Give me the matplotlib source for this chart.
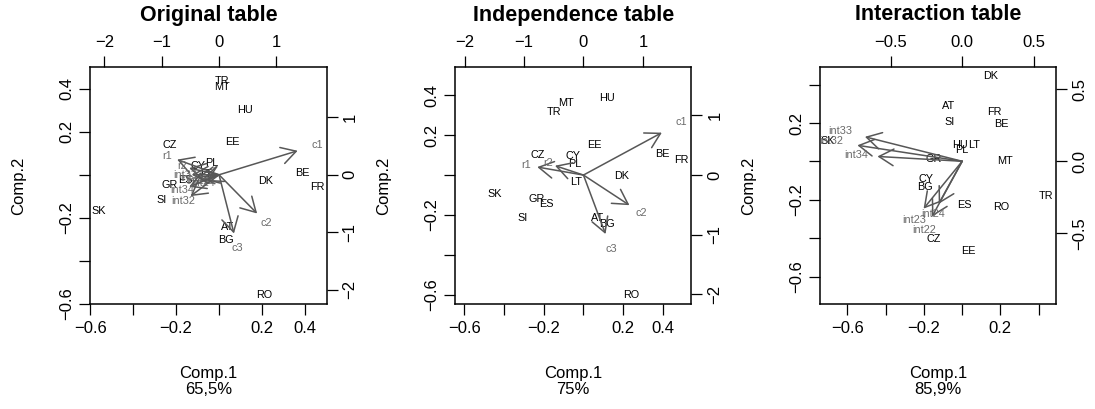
import matplotlib
matplotlib.use("Agg")
import matplotlib.pyplot as plt

plt.rcParams['font.family'] = ['Liberation Sans', 'DejaVu Sans']

# ---------------- data ----------------
countries = ["AT", "BE", "BG", "CY", "CZ", "DK", "EE", "ES", "FR",
             "GR", "HU", "LT", "MT", "PL", "RO", "SI", "SK", "TR"]

# Original table: row scores (Comp.1, Comp.2)
orig_x = [0.040, 0.390, 0.031, -0.100, -0.228, 0.218, 0.062, -0.158, 0.458,
          -0.232, 0.121, -0.060, 0.012, -0.036, 0.211, -0.266, -0.559, 0.012]
orig_y = [-0.241, 0.009, -0.303, 0.040, 0.140, -0.031, 0.152, -0.025, -0.058,
          -0.048, 0.303, 0.005, 0.409, 0.054, -0.560, -0.118, -0.168, 0.435]
orig_vars = ["r1", "r2", "c1", "c2", "c3", "int22", "int23", "int24",
             "int32", "int33", "int34"]
orig_vx = [-0.913, -0.651, 1.715, 0.831, 0.326, -0.36, -0.46, -0.28,
           -0.622, -0.59, -0.651]
orig_vy = [0.330, 0.145, 0.522, -0.841, -1.275, -0.10, -0.05, -0.14,
           -0.464, 0.000, -0.261]

# Independence table
ind_x = [0.072, 0.395, 0.119, -0.054, -0.232, 0.194, 0.055, -0.187, 0.493,
         -0.237, 0.119, -0.037, -0.090, -0.042, 0.239, -0.304, -0.446, -0.149]
ind_y = [-0.214, 0.104, -0.244, 0.095, 0.100, -0.005, 0.150, -0.144, 0.078,
         -0.122, 0.386, -0.035, 0.362, 0.057, -0.601, -0.214, -0.093, 0.316]
ind_vars = ["r1", "r2", "c1", "c2", "c3"]
ind_vx = [-0.972, -0.598, 1.648, 0.966, 0.464]
ind_vy = [0.168, 0.196, 0.888, -0.631, -1.235]

# Interaction table
int_x = [-0.069, 0.203, -0.196, -0.191, -0.149, 0.148, 0.033, 0.012, 0.168,
         -0.149, -0.010, 0.061, 0.226, -0.002, 0.203, -0.066, -0.705, 0.4375]
int_y = [0.287, 0.195, -0.134, -0.090, -0.405, 0.443, -0.466, -0.226, 0.257,
         0.014, 0.083, 0.087, 0.000, 0.061, -0.238, 0.203, 0.104, -0.183]
int_vars = ["int22", "int23", "int24", "int32", "int33", "int34"]
int_vx = [-0.263, -0.337, -0.205, -0.915, -0.849, -0.740]
int_vy = [-0.481, -0.412, -0.370, 0.139, 0.213, 0.042]

titles = ["Original table", "Independence table", "Interaction table"]
variance = ["65,5%", "75%", "85,9%"]

# ---------------- styling / layout ----------------
W, H = 1095, 409
fig = plt.figure(figsize=(W / 100, H / 100), dpi=100)

FS = 12
FS_TITLE = 15.5
FS_PT = 7.8
ARROW_COL = "#575757"
VLAB_COL = "#6a6a6a"

def mlab(v, fmt):
    s = fmt.format(v)
    return s.replace("-", "\u2212")

panels = [
    dict(rx=orig_x, ry=orig_y, vn=orig_vars, vx=orig_vx, vy=orig_vy,
         lim=(-0.600, 0.502), vlim=(-2.245, 1.878),
         pticks=[-0.6, -0.4, -0.2, 0.0, 0.2, 0.4],
         pshow=[-0.6, -0.2, 0.2, 0.4],
         vticks=[-2, -1, 0, 1], vfmt="{:.0f}", left=90.3),
    dict(rx=ind_x, ry=ind_y, vn=ind_vars, vx=ind_vx, vy=ind_vy,
         lim=(-0.646, 0.543), vlim=(-2.16, 1.815),
         pticks=[-0.6, -0.4, -0.2, 0.0, 0.2, 0.4],
         pshow=[-0.6, -0.2, 0.2, 0.4],
         vticks=[-2, -1, 0, 1], vfmt="{:.0f}", left=455.0),
    dict(rx=int_x, ry=int_y, vn=int_vars, vx=int_vx, vy=int_vy,
         lim=(-0.743, 0.493), vlim=(-0.993, 0.658),
         pticks=[-0.6, -0.4, -0.2, 0.0, 0.2, 0.4],
         pshow=[-0.6, -0.2, 0.2],
         vticks=[-0.5, 0.0, 0.5], vfmt="{:.1f}", left=820.0),
]

box_w, box_h = 236.4, 237.3
box_top = 66.7

for i, p in enumerate(panels):
    rect = [p["left"] / W, (H - box_top - box_h) / H, box_w / W, box_h / H]
    ax = fig.add_axes(rect)
    ax.set_xlim(*p["lim"])
    ax.set_ylim(*p["lim"])
    for s in ax.spines.values():
        s.set_linewidth(1.1)
    labels = [mlab(t, "{:.1f}") if any(abs(t - q) < 1e-9 for q in p["pshow"]) else ""
              for t in p["pticks"]]
    ax.set_xticks(p["pticks"])
    ax.set_xticklabels(labels)
    ax.set_yticks(p["pticks"])
    ax.set_yticklabels(labels, rotation=90, va="center")
    ax.tick_params(direction="out", length=8, width=0.9, labelsize=FS, pad=4.5)
    ax.tick_params(axis="y", pad=3.5)

    for name, x, y in zip(countries, p["rx"], p["ry"]):
        ax.text(x, y, name, ha="center", va="center", fontsize=FS_PT,
                color="black")

    ax.set_xlabel("Comp.1\n" + variance[i], fontsize=FS, linespacing=1.1)
    ax.xaxis.set_label_coords(0.5, -0.262)
    ax.set_ylabel("Comp.2", fontsize=FS)
    ax.yaxis.set_label_coords(-0.272, 0.5)

    # secondary (variable) axes
    av = fig.add_axes(rect, frameon=False)
    av.patch.set_visible(False)
    av.set_xlim(*p["vlim"])
    av.set_ylim(*p["vlim"])
    av.xaxis.tick_top()
    av.yaxis.tick_right()
    av.set_xticks(p["vticks"])
    av.set_xticklabels([mlab(t, p["vfmt"]) for t in p["vticks"]])
    av.set_yticks(p["vticks"])
    av.set_yticklabels([mlab(t, p["vfmt"]) for t in p["vticks"]],
                       rotation=90, va="center")
    av.tick_params(direction="out", length=8, width=0.9, labelsize=FS, pad=4)
    av.tick_params(axis="y", pad=3.5)

    for name, x, y in zip(p["vn"], p["vx"], p["vy"]):
        av.annotate("", xy=(0.8 * x, 0.8 * y), xytext=(0, 0),
                    arrowprops=dict(arrowstyle="->,head_length=1.05,head_width=0.6",
                                    color=ARROW_COL, lw=1.1,
                                    shrinkA=0, shrinkB=0))
        av.text(x, y, name, ha="center", va="center", fontsize=FS_PT,
                color=VLAB_COL)

    fig.text((p["left"] + box_w / 2) / W, 1 - 15 / H, titles[i],
             ha="center", va="center", fontsize=FS_TITLE, fontweight="bold")

fig.savefig("out.png", dpi=100)
